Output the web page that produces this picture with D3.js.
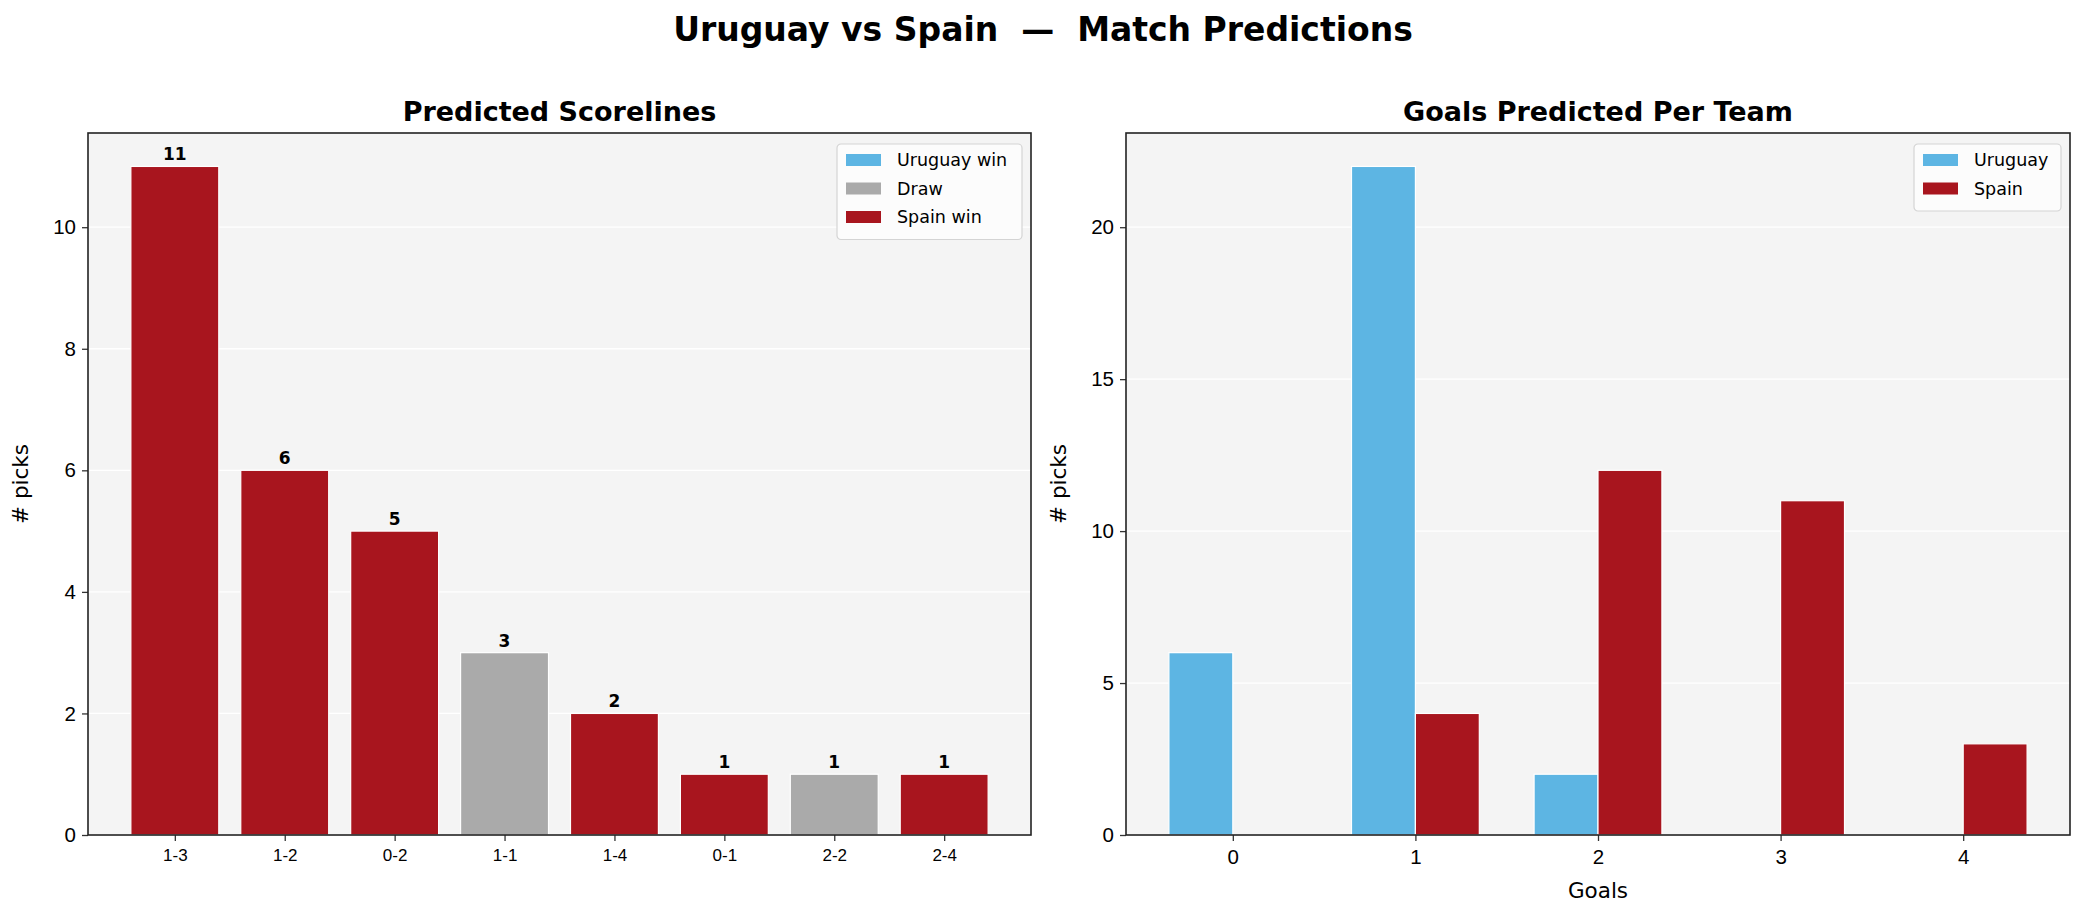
<!DOCTYPE html>
<html>
<head>
<meta charset="utf-8">
<script src="https://cdn.jsdelivr.net/npm/d3@7"></script>
<style>
  body { margin: 0; background: #fff; }
  svg { font-family: "DejaVu Sans", sans-serif; }
</style>
</head>
<body>
<div id="chart"></div>
<script>
// scorelines panel
var scorelines = ["1-3", "1-2", "0-2", "1-1", "1-4", "0-1", "2-2", "2-4"];
var scorePicks = [11, 6, 5, 3, 2, 1, 1, 1];
var scoreOutcome = ["Spain win", "Spain win", "Spain win", "Draw", "Spain win", "Spain win", "Draw", "Spain win"];
var outcomeKeys = ["Uruguay win", "Draw", "Spain win"];

// goals panel
var goals = [0, 1, 2, 3, 4];
var uruguayGoals = [6, 22, 2, 0, 0];
var spainGoals = [0, 4, 12, 11, 3];
var teams = ["Uruguay", "Spain"];

var leftTicks = [0, 2, 4, 6, 8, 10];
var rightTicks = [0, 5, 10, 15, 20];

var W = 2086, H = 916;
var colors = { "Uruguay win": "#5db5e3", "Draw": "#aaaaaa", "Spain win": "#a8151e",
               "Uruguay": "#5db5e3", "Spain": "#a8151e" };

var svg = d3.select("#chart").append("svg")
    .attr("width", W).attr("height", H);

svg.append("text")
    .attr("x", 1043).attr("y", 41)
    .attr("text-anchor", "middle")
    .style("white-space", "pre")
    .style("font-size", "33px").style("font-weight", "bold")
    .text("Uruguay vs Spain  \u2014  Match Predictions");

function panel(box, title, xdom, ymax, yticks) {
    var g = svg.append("g");
    var x = d3.scaleLinear().domain(xdom).range([box.left, box.right]);
    var y = d3.scaleLinear().domain([0, ymax]).range([box.bottom, box.top]);

    g.append("rect")
        .attr("x", box.left).attr("y", box.top)
        .attr("width", box.right - box.left).attr("height", box.bottom - box.top)
        .attr("fill", "#f4f4f4");

    g.selectAll(".grid").data(yticks).enter().append("line")
        .attr("x1", box.left).attr("x2", box.right)
        .attr("y1", d => y(d)).attr("y2", d => y(d))
        .attr("stroke", "#ffffff").attr("stroke-width", 1.3);

    g.append("text")
        .attr("x", (box.left + box.right) / 2).attr("y", box.top - 12)
        .attr("text-anchor", "middle")
        .style("font-size", "27px").style("font-weight", "bold")
        .text(title);

    return { g: g, x: x, y: y, box: box };
}

function finish(p, yticks, xtickVals, xtickFmt, xfont) {
    var box = p.box;
    var ya = p.g.append("g")
        .attr("transform", "translate(" + box.left + ",0)")
        .call(d3.axisLeft(p.y).tickValues(yticks).tickSize(6).tickPadding(6).tickFormat(d3.format("d")));
    ya.select(".domain").remove();
    ya.selectAll("text").style("font-size", "20.5px").attr("fill", "#000");
    ya.selectAll("line").attr("stroke", "#333").attr("stroke-width", 1.3);

    var xa = p.g.append("g")
        .attr("transform", "translate(0," + box.bottom + ")")
        .call(d3.axisBottom(p.x).tickValues(xtickVals).tickSize(6).tickPadding(8).tickFormat(xtickFmt));
    xa.select(".domain").remove();
    xa.selectAll("text").style("font-size", xfont).attr("fill", "#000");
    xa.selectAll("line").attr("stroke", "#333").attr("stroke-width", 1.3);

    p.g.append("rect")
        .attr("x", box.left).attr("y", box.top)
        .attr("width", box.right - box.left).attr("height", box.bottom - box.top)
        .attr("fill", "none").attr("stroke", "#222").attr("stroke-width", 1.6);

    p.g.append("text")
        .attr("transform", "translate(" + (box.left - 60) + "," + ((box.top + box.bottom) / 2) + ") rotate(-90)")
        .attr("text-anchor", "middle")
        .style("font-size", "21.5px")
        .text("# picks");
}

function legend(p, keys, lx, ly, lw) {
    var lg = p.g.append("g").attr("transform", "translate(" + lx + "," + ly + ")");
    lg.append("rect")
        .attr("width", lw).attr("height", keys.length * 28.5 + 10)
        .attr("rx", 4)
        .attr("fill", "#fcfcfc").attr("stroke", "#d4d4d4").attr("stroke-width", 1.2);
    keys.forEach(function(k, i) {
        lg.append("rect")
            .attr("x", 9).attr("y", 10 + i * 28.5)
            .attr("width", 35).attr("height", 12)
            .attr("fill", colors[k]);
        lg.append("text")
            .attr("x", 60).attr("y", 22 + i * 28.5)
            .style("font-size", "17.5px")
            .text(k);
    });
}

// ---- left panel ----
var left = panel({ left: 88, right: 1031, top: 133, bottom: 835 },
    "Predicted Scorelines", [-0.79, scorelines.length - 1 + 0.79], 11.55, leftTicks);

left.g.selectAll(".bar").data(scorePicks).enter().append("rect")
    .attr("x", (d, i) => left.x(i - 0.4))
    .attr("width", left.x(0.8) - left.x(0))
    .attr("y", d => left.y(d))
    .attr("height", d => left.y(0) - left.y(d))
    .attr("fill", (d, i) => colors[scoreOutcome[i]])
    .attr("stroke", "#fff").attr("stroke-width", 1.2);

left.g.selectAll(".val").data(scorePicks).enter().append("text")
    .attr("x", (d, i) => left.x(i))
    .attr("y", d => left.y(d) - 6)
    .attr("text-anchor", "middle")
    .style("font-size", "17px").style("font-weight", "bold")
    .text(d => d);

finish(left, leftTicks, d3.range(scorelines.length), i => scorelines[i], "17px");
legend(left, outcomeKeys, 837, 144, 185);

// ---- right panel ----
var right = panel({ left: 1126, right: 2070, top: 133, bottom: 835 },
    "Goals Predicted Per Team", [-0.585, 4.585], 23.1, rightTicks);

var bw = 0.35;
right.g.selectAll(".uru").data(uruguayGoals).enter().append("rect")
    .attr("x", (d, i) => right.x(goals[i] - bw))
    .attr("width", right.x(bw) - right.x(0))
    .attr("y", d => right.y(d))
    .attr("height", d => right.y(0) - right.y(d))
    .attr("fill", colors.Uruguay)
    .attr("stroke", "#fff").attr("stroke-width", 1.2);

right.g.selectAll(".spa").data(spainGoals).enter().append("rect")
    .attr("x", (d, i) => right.x(goals[i]))
    .attr("width", right.x(bw) - right.x(0))
    .attr("y", d => right.y(d))
    .attr("height", d => right.y(0) - right.y(d))
    .attr("fill", colors.Spain)
    .attr("stroke", "#fff").attr("stroke-width", 1.2);

finish(right, rightTicks, goals, d3.format("d"), "20.5px");
legend(right, teams, 1914, 144, 147);

right.g.append("text")
    .attr("x", (right.box.left + right.box.right) / 2).attr("y", 898)
    .attr("text-anchor", "middle")
    .style("font-size", "21.5px")
    .text("Goals");
</script>
</body>
</html>
